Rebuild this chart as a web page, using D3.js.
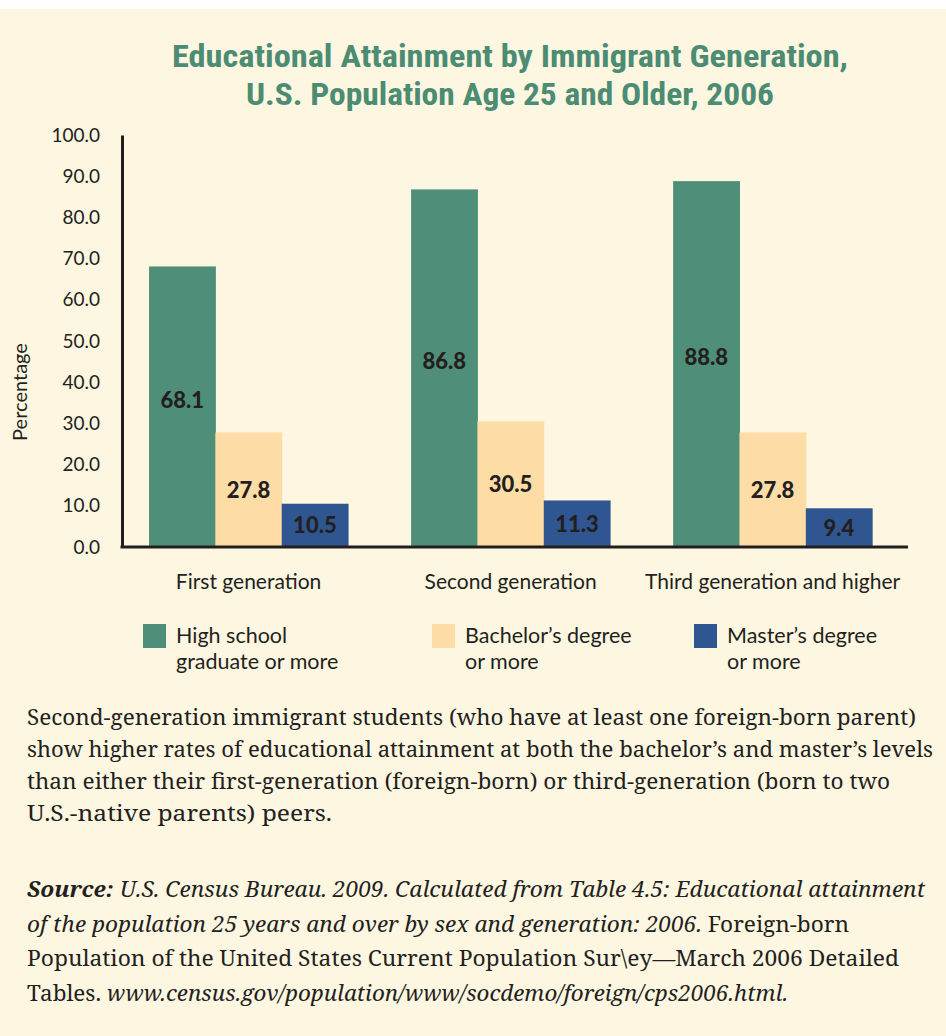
<!DOCTYPE html>
<html>
<head>
<meta charset="utf-8">
<script src="https://cdn.jsdelivr.net/npm/d3@7"></script>
<style>
  html, body { margin: 0; padding: 0; background: #ffffff; }
  svg { display: block; }
</style>
</head>
<body>
<svg id="chart" width="946" height="1036"></svg>
<script>
// ---------- data ----------
const categories = ["First generation", "Second generation", "Third generation and higher"];
const seriesNames = ["High school graduate or more", "Bachelor\u2019s degree or more", "Master\u2019s degree or more"];
const legendLines = [["High school", "graduate or more"], ["Bachelor\u2019s degree", "or more"], ["Master\u2019s degree", "or more"]];
const highSchool = [68.1, 86.8, 88.8];
const bachelors = [27.8, 30.5, 27.8];
const masters = [10.5, 11.3, 9.4];
const yTicks = [0, 10, 20, 30, 40, 50, 60, 70, 80, 90, 100];
const titleLines = ["Educational Attainment by Immigrant Generation,", "U.S. Population Age 25 and Older, 2006"];
const yLabel = "Percentage";
const paragraphLines = [
  "Second-generation immigrant students (who have at least one foreign-born parent)",
  "show higher rates of educational attainment at both the bachelor\u2019s and master\u2019s levels",
  "than either their first-generation (foreign-born) or third-generation (born to two",
  "U.S.-native parents) peers."
];
// source lines: segments of [text, style]
const sourceLines = [
  [["Source:", "bi"], [" U.S. Census Bureau. 2009. Calculated from Table 4.5: Educational attainment", "i"]],
  [["of the population 25 years and over by sex and generation: 2006.", "i"], [" Foreign-born", "r"]],
  [["Population of the United States Current Population Sur\\ey\u2014March 2006 Detailed", "r"]],
  [["Tables. ", "r"], ["www.census.gov/population/www/socdemo/foreign/cps2006.html.", "i"]]
];

// ---------- styles ----------
const colors = ["#4f8f79", "#fddca5", "#2f5690"];
const textColor = "#231f20";
const sans = "Lato, 'Open Sans', sans-serif";
const serif = "'Noto Serif', 'DejaVu Serif', serif";

const svg = d3.select("#chart");
svg.append("rect").attr("x", 0).attr("y", 9).attr("width", 946).attr("height", 1027).attr("fill", "#fdf6e1");

// ---------- title ----------
const titleWidths = [676, 528];
svg.selectAll("text.title").data(titleLines).join("text")
  .attr("class", "title")
  .attr("x", 510).attr("y", (d, i) => 67 + i * 38)
  .attr("text-anchor", "middle")
  .attr("font-family", "'Roboto Condensed', 'Open Sans', sans-serif")
  .attr("font-weight", 700)
  .attr("font-size", 31)
  .attr("fill", "#4b8c73")
  .attr("textLength", (d, i) => titleWidths[i])
  .attr("lengthAdjust", "spacingAndGlyphs")
  .text(d => d);

// ---------- scales ----------
const plotLeft = 122, plotRight = 908, plotTop = 135, plotBottom = 547;
const x0 = d3.scaleBand().domain(categories).range([plotLeft, plotRight])
  .paddingInner(0.2405).paddingOuter(0.12).align(0.43);
const x1 = d3.scaleBand().domain(seriesNames).range([0, x0.bandwidth()]);
const y = d3.scaleLinear().domain([0, 100]).range([plotBottom, plotTop]);

const table = categories.map((c, i) => ({
  category: c,
  values: [highSchool[i], bachelors[i], masters[i]].map((v, j) => ({ series: seriesNames[j], value: v, j }))
}));

// ---------- bars ----------
const groups = svg.selectAll("g.grp").data(table).join("g")
  .attr("class", "grp")
  .attr("transform", d => `translate(${x0(d.category)},0)`);

groups.selectAll("rect").data(d => d.values).join("rect")
  .attr("x", d => x1(d.series))
  .attr("y", d => y(d.value))
  .attr("width", x1.bandwidth() + 0.5)
  .attr("height", d => y(0) - y(d.value))
  .attr("fill", d => colors[d.j]);

groups.selectAll("text.val").data(d => d.values).join("text")
  .attr("class", "val")
  .attr("x", d => x1(d.series) + x1.bandwidth() / 2)
  .attr("y", d => (y(d.value) + y(0)) / 2 - (d.value > 50 ? 7 : 0))
  .attr("dy", "0.36em")
  .attr("text-anchor", "middle")
  .attr("font-family", sans)
  .attr("font-weight", 900)
  .attr("font-size", 22)
  .attr("fill", textColor)
  .text(d => d.value.toFixed(1));

// ---------- axes ----------
const yAxis = svg.append("g")
  .attr("transform", `translate(${plotLeft},0)`)
  .call(d3.axisLeft(y).tickValues(yTicks).tickFormat(d3.format(".1f")).tickSize(0).tickPadding(22));
yAxis.select(".domain").attr("stroke", textColor).attr("stroke-width", 3);
yAxis.selectAll(".tick text").attr("font-family", sans).attr("font-size", 19).attr("fill", textColor);

const xAxis = svg.append("g")
  .attr("transform", `translate(0,${plotBottom})`)
  .call(d3.axisBottom(x0).tickSize(0).tickPadding(27));
xAxis.select(".domain").attr("stroke", textColor).attr("stroke-width", 3)
  .attr("d", `M${plotLeft - 1.5},0H${plotRight}`);
xAxis.selectAll(".tick text").attr("font-family", sans).attr("font-size", 21).attr("fill", textColor);

svg.append("text")
  .attr("transform", `translate(27,392) rotate(-90)`)
  .attr("text-anchor", "middle")
  .attr("font-family", sans).attr("font-size", 20).attr("fill", textColor)
  .text(yLabel);

// ---------- legend ----------
const legendX = [143, 432, 694];
const legend = svg.selectAll("g.leg").data(legendLines).join("g")
  .attr("class", "leg")
  .attr("transform", (d, i) => `translate(${legendX[i]},624)`);
legend.append("rect").attr("width", 23).attr("height", 24).attr("fill", (d, i) => colors[i]);
legend.append("text")
  .attr("font-family", sans).attr("font-size", 21.5).attr("fill", textColor)
  .selectAll("tspan").data(d => d).join("tspan")
  .attr("x", 33).attr("y", (d, i) => 19 + i * 26)
  .text(d => d);

// ---------- paragraph ----------
const paraWidths = [889, 906, 863, 305];
svg.selectAll("text.para").data(paragraphLines).join("text")
  .attr("class", "para")
  .attr("x", 27).attr("y", (d, i) => 725 + i * 32)
  .attr("font-family", serif).attr("font-size", 21.5).attr("fill", textColor)
  .attr("textLength", (d, i) => paraWidths[i])
  .attr("lengthAdjust", "spacingAndGlyphs")
  .text(d => d);

const srcWidths = [898, 822, 872, 761];
const src = svg.selectAll("text.src").data(sourceLines).join("text")
  .attr("class", "src")
  .attr("x", 27).attr("y", (d, i) => 897 + i * 34.5)
  .attr("font-family", serif).attr("font-size", 21.5).attr("fill", textColor)
  .attr("textLength", (d, i) => srcWidths[i])
  .attr("lengthAdjust", "spacingAndGlyphs");
src.selectAll("tspan").data(d => d).join("tspan")
  .attr("font-style", d => d[1] === "r" ? "normal" : "italic")
  .attr("font-weight", d => d[1] === "bi" ? 700 : 400)
  .text(d => d[0]);
</script>
</body>
</html>
